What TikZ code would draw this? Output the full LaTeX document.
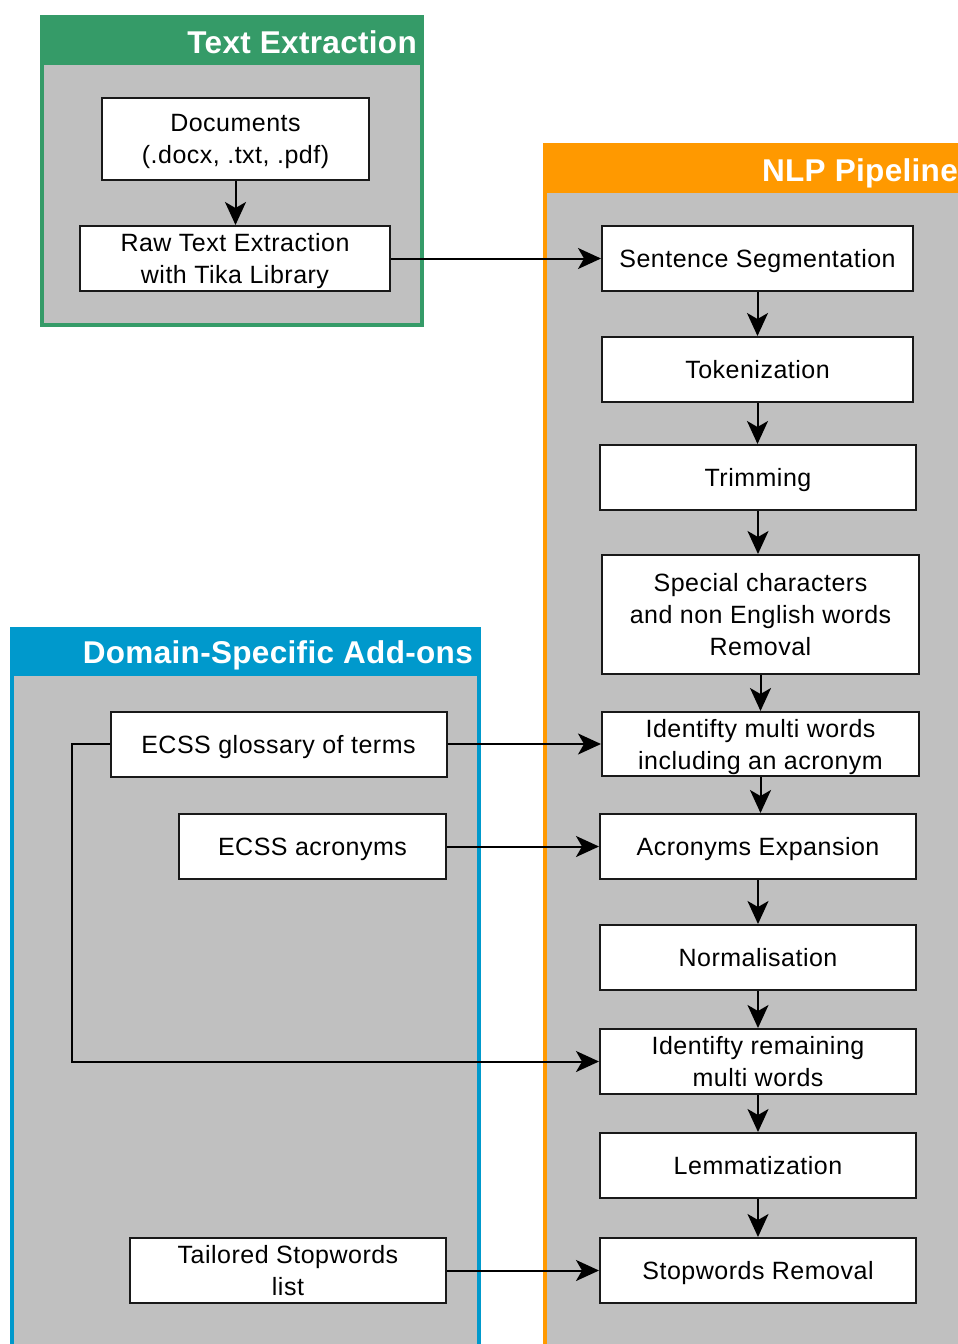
\documentclass[tikz,border=0pt]{standalone}
\usepackage{fontspec}
\setmainfont{Liberation Sans}
\newfontfamily\boxfont[LetterSpace=2]{Liberation Sans}
\newfontfamily\titlefont[LetterSpace=1]{Liberation Sans}
\usetikzlibrary{arrows.meta}
\definecolor{tegreen}{RGB}{53,155,104}
\definecolor{nlporange}{RGB}{255,153,0}
\definecolor{dsblue}{RGB}{0,153,204}
\definecolor{panelgrey}{RGB}{192,192,192}
\definecolor{boxline}{RGB}{25,25,25}
\tikzset{
  box/.style={draw=boxline, line width=2pt, fill=white, align=center, inner sep=0pt,
    text depth=0pt, font=\boxfont\fontsize{25}{32}\selectfont},
  paneltitle/.style={text=white, inner sep=0pt, font=\titlefont\bfseries\fontsize{31.5}{36}\selectfont},
  arr/.style={draw=black, line width=2pt, -{Stealth[length=23pt,width=21pt,inset=6pt]}},
}
\begin{document}
\begin{tikzpicture}[x=1pt,y=-1pt]
\useasboundingbox (0,0) rectangle (958,1344);
\clip (0,0) rectangle (958,1344);
\fill[white] (0,0) rectangle (958,1344);

% containers
\fill[tegreen] (40,15) rectangle (424,327);
\fill[panelgrey] (44,65) rectangle (420,323);
\node[paneltitle, anchor=base east] (tetitle) at (417,53) {Text Extraction};

\fill[nlporange] (543,143) rectangle (975,1360);
\fill[panelgrey] (547,193) rectangle (975,1360);
\node[paneltitle, anchor=base east] (nlptitle) at (958,181) {NLP Pipeline};

\fill[dsblue] (10,627) rectangle (481,1360);
\fill[panelgrey] (14,676) rectangle (477,1360);
\node[paneltitle, anchor=base east] (dstitle) at (473,663) {Domain-Specific Add-ons};

% text extraction boxes
\node[box, minimum width=267, minimum height=82] (docs) at (235.5,139) {Documents\\(.docx, .txt, .pdf)};
\node[box, minimum width=310, minimum height=65] (raw) at (235,258.5) {Raw Text Extraction\\with Tika Library};

% NLP pipeline boxes
\node[box, minimum width=311, minimum height=65] (seg) at (757.5,258.5) {Sentence Segmentation};
\node[box, minimum width=311, minimum height=65] (tok) at (757.5,369.5) {Tokenization};
\node[box, minimum width=316, minimum height=65] (trim) at (758,477.5) {Trimming};
\node[box, minimum width=317, minimum height=119] (spec) at (760.5,614.5) {Special characters\\and non English words\\Removal};
\node[box, minimum width=317, minimum height=64] (ident1) at (760.5,744) {Identifty multi words\\including an acronym};
\node[box, minimum width=316, minimum height=65] (acr) at (758,846.5) {Acronyms Expansion};
\node[box, minimum width=316, minimum height=65] (norm) at (758,957.5) {Normalisation};
\node[box, minimum width=316, minimum height=65] (ident2) at (758,1061.5) {Identifty remaining\\multi words};
\node[box, minimum width=316, minimum height=65] (lemma) at (758,1165.5) {Lemmatization};
\node[box, minimum width=316, minimum height=65] (stop) at (758,1270.5) {Stopwords Removal};

% domain boxes
\node[box, minimum width=336, minimum height=65] (gloss) at (278.5,744) {ECSS glossary of terms};
\node[box, minimum width=267, minimum height=65] (acrlist) at (312.5,846.5) {ECSS acronyms};
\node[box, minimum width=316, minimum height=65] (stoplist) at (288,1270.5) {Tailored Stopwords\\list};

% connectors
\draw[arr] (docs.south) -- (docs.south |- raw.north);
\draw[arr] (raw.east) -- (seg.west);
\draw[arr] (seg.south) -- (seg.south |- tok.north);
\draw[arr] (tok.south) -- (tok.south |- trim.north);
\draw[arr] (trim.south) -- (trim.south |- spec.north);
\draw[arr] (spec.south) -- (spec.south |- ident1.north);
\draw[arr] (ident1.south) -- (ident1.south |- acr.north);
\draw[arr] (acr.south) -- (acr.south |- norm.north);
\draw[arr] (norm.south) -- (norm.south |- ident2.north);
\draw[arr] (ident2.south) -- (ident2.south |- lemma.north);
\draw[arr] (lemma.south) -- (lemma.south |- stop.north);

\draw[arr] (gloss.east) -- (gloss.east -| ident1.west);
\draw[arr] (acrlist.east) -- (acr.west);
\draw[arr] (stoplist.east) -- (stop.west);

\coordinate (bend) at (72,744);
\draw[arr] (gloss.west) -- (bend) |- (ident2.west);
\end{tikzpicture}
\end{document}
